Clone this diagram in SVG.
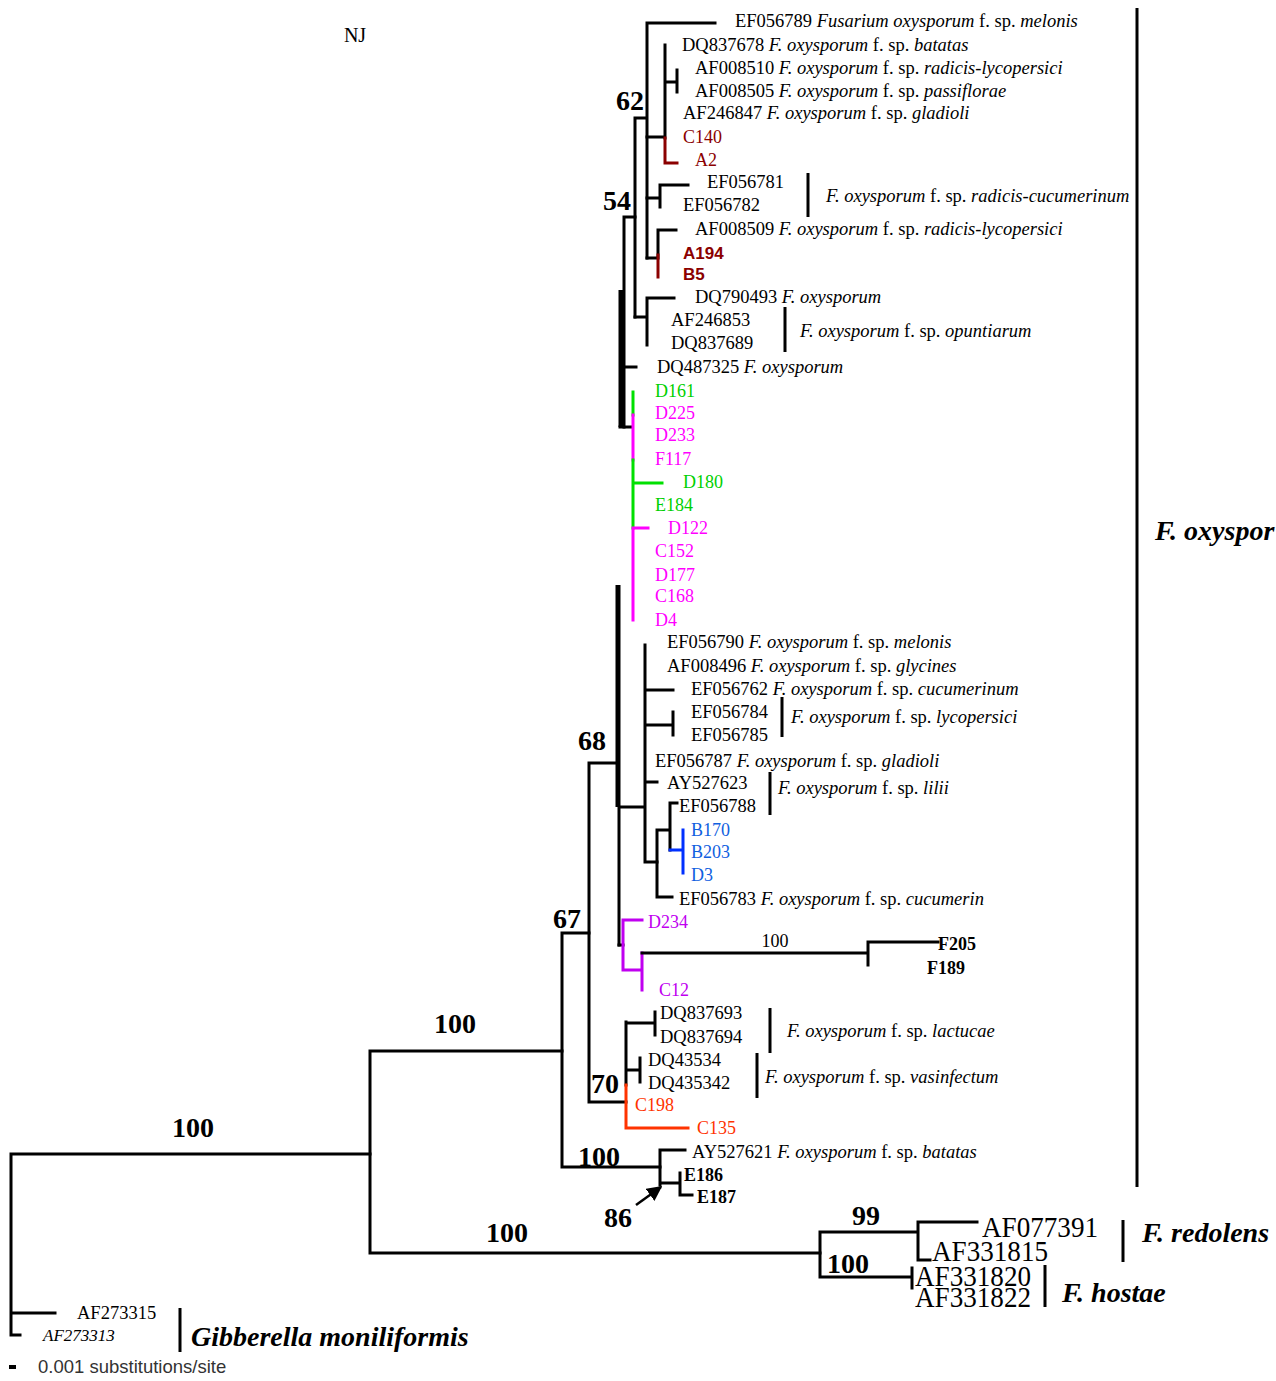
<svg xmlns="http://www.w3.org/2000/svg" width="1276" height="1381" viewBox="0 0 1276 1381">
<defs>
<style>
.b{fill:none;stroke:#000;stroke-width:3;stroke-linecap:square}
.tk{fill:none;stroke:#000;stroke-width:5}
.bar{fill:none;stroke:#000;stroke-width:3}
.dr{stroke:#8B0000}
.gr{stroke:#00E000}
.mg{stroke:#FF00FF}
.pu{stroke:#C000F0}
.bl{stroke:#0030FF}
.or{stroke:#FF3300}
.t{font-family:"Liberation Serif",serif;font-size:18.5px;fill:#000}
.i{font-style:italic}
.c{font-family:"Liberation Serif",serif;font-size:18px}
.n{font-family:"Liberation Serif",serif;font-weight:bold;font-size:28px;fill:#000}
.big{font-family:"Liberation Serif",serif;font-size:30px;fill:#000}
.sp{font-family:"Liberation Serif",serif;font-weight:bold;font-style:italic;font-size:28px;fill:#000}
.fdr{fill:#8B0000}.fgr{fill:#00D000}.fmg{fill:#FF00FF}.fpu{fill:#C000F0}.fbl{fill:#1060E0}.for{fill:#FF3300}
</style>
<marker id="ah" viewBox="0 0 10 10" refX="9" refY="5" markerWidth="6" markerHeight="6" orient="auto"><path d="M0,0 L10,5 L0,10 z" fill="#000"/></marker>
</defs>
<rect width="1276" height="1381" fill="#fff"/>

<g id="connectors">
<!-- root -->
<path class="b" d="M11,1154 V1335 M11,1154 H370 M11,1313 H55 M11,1335 H20"/>
<path class="b" d="M370,1051 V1253 M370,1051 H562 M370,1253 H820"/>
<path class="b" d="M820,1232 V1277 M820,1232 H918 M820,1277 H912 M918,1222 V1260 M918,1222 H977 M918,1260 H930 M912,1268 V1288"/>
<!-- node 100 / 67 -->
<path class="b" d="M562,933 V1167 M562,933 H589 M562,1167 H660"/>
<path class="b" d="M660,1150 V1185 M660,1150 H685 M660,1183 H680 M680,1173 V1195 M680,1195 H692"/>
<path class="b" d="M589,763 V1102 M589,763 H618 M589,1102 H626"/>
<path class="b" d="M626,1022 V1085 M626,1023 H655 M655,1012 V1035 M626,1070 H640 M640,1058 V1082"/>
<path class="b or" d="M626,1085 V1128 H688"/>
<!-- upper clade -->
<path class="b" d="M624,217 V427 M624,217 H635"/>
<path class="tk" d="M621,290 V427"/>
<path class="b" d="M635,118 V317 M635,118 H647 M647,23 V258 M647,23 H715"/>
<path class="b" d="M647,137 H665 M665,45 V138 M665,82 H677 M677,70 V92"/>
<path class="b dr" d="M665,138 V163 H677"/>
<path class="b" d="M647,198 H660 M660,185 V207 M660,185 H688"/>
<path class="b" d="M647,258 H658 M658,230 V255 M658,230 H676"/>
<path class="b dr" d="M658,255 V277"/>
<path class="b" d="M635,317 H647 M647,298 V345 M647,298 H674"/>
<path class="b" d="M624,367 H636 M620,427 H632"/>
<path class="b gr" d="M633,392 V415"/>
<path class="b mg" d="M633,415 V460"/>
<path class="b gr" d="M633,460 V528 M633,483 H662"/>
<path class="b mg" d="M633,528 V620 M633,528 H648"/>
<!-- node 68 clade -->
<path class="tk" d="M618,585 V807"/>
<path class="b" d="M619,807 V945 M619,807 H645 M645,645 V862 M645,690 H673 M645,725 H673 M673,712 V735 M645,782 H657 M645,862 H657"/>
<path class="b" d="M657,830 V897 M657,830 H670 M657,897 H672 M670,803 V850 M670,803 H677"/>
<path class="b bl" d="M670,850 H683 M683,830 V873"/>
<path class="b" d="M619,945 H623"/>
<path class="b pu" d="M623,920 V970 M623,920 H642 M623,970 H642 M642,953 V990"/>
<path class="b" d="M642,953 H868 M868,942 V965 M868,942 H938"/>
<!-- arrow -->
<line x1="636" y1="1205" x2="661" y2="1187" stroke="#000" stroke-width="2.5" marker-end="url(#ah)"/>
<!-- group bars -->
<path class="bar" d="M1137,8 V1187 M808,173 V217 M785,307 V352 M782,697 V737 M770,772 V815 M770,1008 V1053 M757,1053 V1098 M1123,1220 V1262 M1045,1265 V1307 M180,1308 V1352"/>
<!-- scale bar -->
<rect x="9" y="1365" width="7" height="4" fill="#000"/>
</g>

<g id="support-values">
<text class="n" x="644" y="110" text-anchor="end">62</text>
<text class="n" x="631" y="210" text-anchor="end">54</text>
<text class="n" x="606" y="750" text-anchor="end">68</text>
<text class="n" x="581" y="928" text-anchor="end">67</text>
<text class="n" x="619" y="1093" text-anchor="end">70</text>
<text class="n" x="578" y="1166">100</text>
<text class="n" x="632" y="1227" text-anchor="end">86</text>
<text class="n" x="455" y="1033" text-anchor="middle">100</text>
<text class="n" x="193" y="1137" text-anchor="middle">100</text>
<text class="n" x="507" y="1242" text-anchor="middle">100</text>
<text class="n" x="866" y="1225" text-anchor="middle">99</text>
<text class="n" x="848" y="1273" text-anchor="middle">100</text>
<text class="t" x="775" y="947" text-anchor="middle" style="font-size:18px">100</text>
<text class="t" x="355" y="42" text-anchor="middle" style="font-size:20px">NJ</text>
</g>

<g id="leaves-top">
<g id="EF056789"><text class="t" x="735" y="27">EF056789 <tspan class="i">Fusarium oxysporum</tspan> f. sp. <tspan class="i">melonis</tspan></text></g>
<g id="DQ837678"><text class="t" x="682" y="51">DQ837678 <tspan class="i">F. oxysporum</tspan> f. sp. <tspan class="i">batatas</tspan></text></g>
<g id="AF008510"><text class="t" x="695" y="74">AF008510 <tspan class="i">F. oxysporum</tspan> f. sp. <tspan class="i">radicis-lycopersici</tspan></text></g>
<g id="AF008505"><text class="t" x="695" y="97">AF008505 <tspan class="i">F. oxysporum</tspan> f. sp.  <tspan class="i">passiflorae</tspan></text></g>
<g id="AF246847"><text class="t" x="683" y="119">AF246847 <tspan class="i">F. oxysporum</tspan> f. sp. <tspan class="i">gladioli</tspan></text></g>
<g id="C140"><text class="c fdr" x="683" y="143">C140</text></g>
<g id="A2"><text class="c fdr" x="695" y="166">A2</text></g>
<g id="EF056781"><text class="t" x="707" y="188">EF056781</text></g>
<g id="EF056782"><text class="t" x="683" y="211">EF056782</text></g>
<g id="rc"><text class="t" x="826" y="202"><tspan class="i">F. oxysporum</tspan> f. sp. <tspan class="i">radicis-cucumerinum</tspan></text></g>
<g id="AF008509"><text class="t" x="695" y="235">AF008509 <tspan class="i">F. oxysporum</tspan> f. sp. <tspan class="i">radicis-lycopersici</tspan></text></g>
<g id="A194"><text class="fdr" x="683" y="259" style="font-family:'Liberation Sans',sans-serif;font-weight:bold;font-size:17px">A194</text></g>
<g id="B5"><text class="fdr" x="683" y="280" style="font-family:'Liberation Sans',sans-serif;font-weight:bold;font-size:17px">B5</text></g>
<g id="DQ790493"><text class="t" x="695" y="303">DQ790493 <tspan class="i">F. oxysporum</tspan></text></g>
<g id="AF246853"><text class="t" x="671" y="326">AF246853</text></g>
<g id="DQ837689"><text class="t" x="671" y="349">DQ837689</text></g>
<g id="opuntiarum"><text class="t" x="800" y="337"><tspan class="i">F. oxysporum</tspan> f. sp. <tspan class="i">opuntiarum</tspan></text></g>
<g id="DQ487325"><text class="t" x="657" y="373">DQ487325 <tspan class="i">F. oxysporum</tspan></text></g>
</g>

<g id="leaves-isolates">
<g id="D161"><text class="c fgr" x="655" y="397">D161</text></g>
<g id="D225"><text class="c fmg" x="655" y="419">D225</text></g>
<g id="D233"><text class="c fmg" x="655" y="441">D233</text></g>
<g id="F117"><text class="c fmg" x="655" y="465">F117</text></g>
<g id="D180"><text class="c fgr" x="683" y="488">D180</text></g>
<g id="E184"><text class="c fgr" x="655" y="511">E184</text></g>
<g id="D122"><text class="c fmg" x="668" y="534">D122</text></g>
<g id="C152"><text class="c fmg" x="655" y="557">C152</text></g>
<g id="D177"><text class="c fmg" x="655" y="581">D177</text></g>
<g id="C168"><text class="c fmg" x="655" y="602">C168</text></g>
<g id="D4"><text class="c fmg" x="655" y="626">D4</text></g>
</g>

<g id="leaves-middle">
<g id="EF056790"><text class="t" x="667" y="648">EF056790 <tspan class="i">F. oxysporum</tspan> f. sp. <tspan class="i">melonis</tspan></text></g>
<g id="AF008496"><text class="t" x="667" y="672">AF008496 <tspan class="i">F. oxysporum</tspan> f. sp. <tspan class="i">glycines</tspan></text></g>
<g id="EF056762"><text class="t" x="691" y="695">EF056762 <tspan class="i">F. oxysporum</tspan> f. sp. <tspan class="i">cucumerinum</tspan></text></g>
<g id="EF056784"><text class="t" x="691" y="718">EF056784</text></g>
<g id="EF056785"><text class="t" x="691" y="741">EF056785</text></g>
<g id="lycopersici"><text class="t" x="791" y="723"><tspan class="i">F. oxysporum</tspan> f. sp. <tspan class="i">lycopersici</tspan></text></g>
<g id="EF056787"><text class="t" x="655" y="767">EF056787 <tspan class="i">F. oxysporum</tspan> f. sp. <tspan class="i">gladioli</tspan></text></g>
<g id="AY527623"><text class="t" x="667" y="789">AY527623</text></g>
<g id="EF056788"><text class="t" x="679" y="812">EF056788</text></g>
<g id="lilii"><text class="t" x="778" y="794"><tspan class="i">F. oxysporum</tspan> f. sp. <tspan class="i">lilii</tspan></text></g>
<g id="B170"><text class="c fbl" x="691" y="836">B170</text></g>
<g id="B203"><text class="c fbl" x="691" y="858">B203</text></g>
<g id="D3"><text class="c fbl" x="691" y="881">D3</text></g>
<g id="EF056783"><text class="t" x="679" y="905">EF056783 <tspan class="i">F. oxysporum</tspan> f. sp. <tspan class="i">cucumerin</tspan></text></g>
<g id="D234"><text class="c fpu" x="648" y="928">D234</text></g>
<g id="F205"><text class="c" x="938" y="950" style="font-weight:bold">F205</text></g>
<g id="F189"><text class="c" x="927" y="974" style="font-weight:bold">F189</text></g>
<g id="C12"><text class="c fpu" x="659" y="996">C12</text></g>
</g>

<g id="leaves-lower">
<g id="DQ837693"><text class="t" x="660" y="1019">DQ837693</text></g>
<g id="DQ837694"><text class="t" x="660" y="1043">DQ837694</text></g>
<g id="lactucae"><text class="t" x="787" y="1037"><tspan class="i">F. oxysporum</tspan> f. sp. <tspan class="i">lactucae</tspan></text></g>
<g id="DQ43534"><text class="t" x="648" y="1066">DQ43534</text></g>
<g id="DQ435342"><text class="t" x="648" y="1089">DQ435342</text></g>
<g id="vasinfectum"><text class="t" x="765" y="1083"><tspan class="i">F. oxysporum</tspan> f. sp. <tspan class="i">vasinfectum</tspan></text></g>
<g id="C198"><text class="c for" x="635" y="1111">C198</text></g>
<g id="C135"><text class="c for" x="697" y="1134">C135</text></g>
<g id="AY527621"><text class="t" x="692" y="1158">AY527621 <tspan class="i">F. oxysporum</tspan> f. sp. <tspan class="i">batatas</tspan></text></g>
<g id="E186"><text class="c" x="684" y="1181" style="font-weight:bold">E186</text></g>
<g id="E187"><text class="c" x="697" y="1203" style="font-weight:bold">E187</text></g>
</g>

<g id="outgroups">
<g id="AF077391"><text class="big" x="982" y="1237" textLength="116" lengthAdjust="spacingAndGlyphs">AF077391</text></g>
<g id="AF331815"><text class="big" x="932" y="1261" textLength="116" lengthAdjust="spacingAndGlyphs">AF331815</text></g>
<g id="AF331820"><text class="big" x="915" y="1286" textLength="116" lengthAdjust="spacingAndGlyphs">AF331820</text></g>
<g id="AF331822"><text class="big" x="915" y="1307" textLength="116" lengthAdjust="spacingAndGlyphs">AF331822</text></g>
<g id="AF273315"><text class="t" x="77" y="1319">AF273315</text></g>
<g id="AF273313"><text class="t i" x="43" y="1341" style="font-size:17px">AF273313</text></g>
</g>

<g id="species-labels">
<text class="sp" x="1155" y="540">F. oxyspor</text>
<text class="sp" x="1142" y="1242">F. redolens</text>
<text class="sp" x="1062" y="1302">F. hostae</text>
<text class="sp" x="191" y="1346">Gibberella moniliformis</text>
</g>

<g id="scale">
<text x="38" y="1373" style="font-family:'Liberation Sans',sans-serif;font-size:18.5px;fill:#333">0.001 substitutions/site</text>
</g>
</svg>
